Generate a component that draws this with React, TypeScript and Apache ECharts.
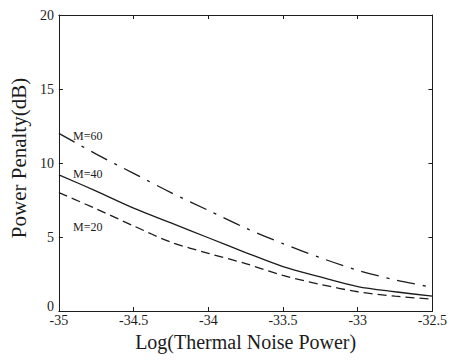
import React, { useEffect, useRef } from "react";
import * as echarts from "echarts";

const noisePower = [-35, -34.75, -34.5, -34.25, -34, -33.75, -33.5, -33.25, -33, -32.75, -32.5];
const penaltyM60 = [12.0, 10.6, 9.3, 8.0, 6.8, 5.6, 4.55, 3.6, 2.75, 2.1, 1.6];
const penaltyM40 = [9.2, 8.1, 6.95, 5.95, 4.95, 3.95, 3.0, 2.3, 1.65, 1.3, 1.0];
const penaltyM20 = [8.0, 6.9, 5.75, 4.65, 3.9, 3.2, 2.4, 1.8, 1.3, 1.0, 0.8];
const seriesNames = ["M=60", "M=40", "M=20"];

const FONT = "'Liberation Serif', 'Times New Roman', serif";
const INK = "#1c1c1c";

export default function App() {
  const ref = useRef<HTMLDivElement>(null);
  useEffect(() => {
    if (!ref.current) return;
    const chart = echarts.init(ref.current, undefined, { renderer: "svg" });
    const pairs = (ys: number[]) => noisePower.map((x, i) => [x, ys[i]]);
    const baseX = {
      type: "value" as const,
      min: -35,
      max: -32.5,
      interval: 0.5,
      splitLine: { show: false },
      axisLine: { show: true, onZero: false, lineStyle: { color: INK, width: 1 } },
      axisTick: { show: true, inside: true, length: 4, lineStyle: { color: INK } },
    };
    const baseY = {
      type: "value" as const,
      min: 0,
      max: 20,
      interval: 5,
      splitLine: { show: false },
      axisLine: { show: true, onZero: false, lineStyle: { color: INK, width: 1 } },
      axisTick: { show: true, inside: true, length: 4, lineStyle: { color: INK } },
    };
    const lineStyleFor = (type: any) => ({ color: INK, width: 1.3, type });
    chart.setOption({
      animation: false,
      backgroundColor: "#ffffff",
      grid: { left: 56, right: 13, top: 15, bottom: 49, containLabel: false },
      xAxis: [
        {
          ...baseX,
          position: "bottom",
          name: "Log(Thermal Noise Power)",
          nameLocation: "middle",
          nameGap: 9,
          nameTextStyle: { fontFamily: FONT, fontSize: 20, color: INK },
          axisLabel: { fontFamily: FONT, fontSize: 14, color: INK, margin: 2 },
        },
        { ...baseX, position: "top", axisLabel: { show: false } },
      ],
      yAxis: [
        {
          ...baseY,
          position: "left",
          name: "Power Penalty(dB)",
          nameLocation: "middle",
          nameGap: 25,
          nameTextStyle: { fontFamily: FONT, fontSize: 21, color: INK, padding: [0, 0, 0, 10] },
          axisLabel: {
            fontFamily: FONT,
            fontSize: 14,
            color: INK,
            margin: 5,
            formatter: (v: number) => (v === 0 ? "{z|0}" : String(v)),
            rich: { z: { fontFamily: FONT, fontSize: 14, color: INK, padding: [0, 0, 9, 0] } },
          },
        },
        { ...baseY, position: "right", axisLabel: { show: false } },
      ],
      series: [
        {
          name: seriesNames[0],
          type: "line",
          data: pairs(penaltyM60),
          showSymbol: false,
          smooth: 0.3,
          lineStyle: lineStyleFor([18, 8, 3, 8]),
        },
        {
          name: seriesNames[1],
          type: "line",
          data: pairs(penaltyM40),
          showSymbol: false,
          smooth: 0.3,
          lineStyle: lineStyleFor("solid"),
        },
        {
          name: seriesNames[2],
          type: "line",
          data: pairs(penaltyM20),
          showSymbol: false,
          smooth: 0.3,
          lineStyle: lineStyleFor([9, 5]),
        },
      ],
      graphic: [
        { type: "text", left: 73, top: 130, style: { text: seriesNames[0], font: `12px ${FONT}`, fill: INK } },
        { type: "text", left: 73, top: 168, style: { text: seriesNames[1], font: `12px ${FONT}`, fill: INK } },
        { type: "text", left: 73, top: 221, style: { text: seriesNames[2], font: `12px ${FONT}`, fill: INK } },
      ],
    });
    return () => chart.dispose();
  }, []);
  return (
    <div
      ref={ref}
      style={{ position: "fixed", left: 0, top: 0, width: 450, height: 360, background: "#fff" }}
    />
  );
}
